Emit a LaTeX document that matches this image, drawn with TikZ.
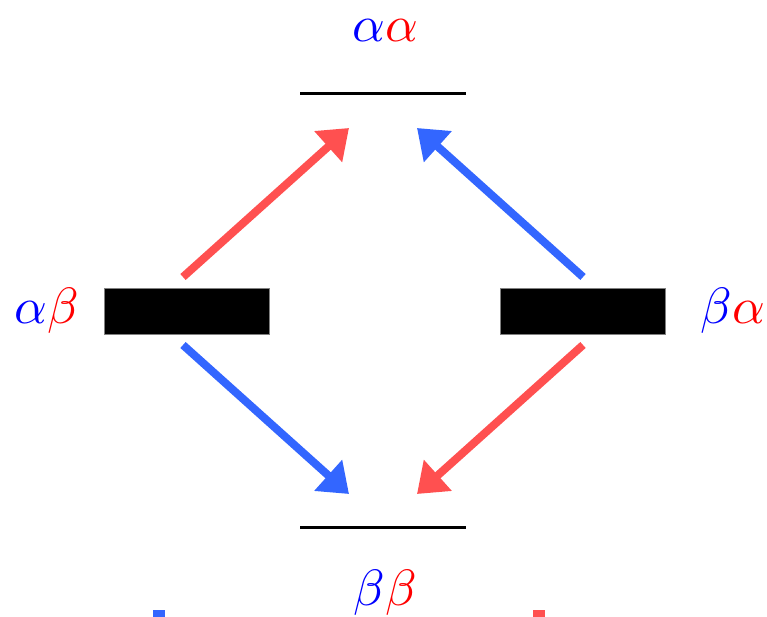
\documentclass[tikz,border=0pt]{standalone}
\usepackage{graphicx}
\usetikzlibrary{arrows.meta}
\definecolor{arrred}{RGB}{255,80,80}
\definecolor{arrblue}{RGB}{51,102,255}
\newcommand{\biglbl}[1]{\scalebox{5.1}{$#1$}}
\tikzset{
  lbl/.style={inner sep=0pt, anchor=base},
  level/.style={line width=3pt, black},
  bar/.style={fill=black, draw=gray, line width=0.6pt, minimum width=165pt, minimum height=46pt, inner sep=0pt},
  arr/.style={line width=8pt, -{Triangle[length=28pt,width=40pt]}},
  cutmark/.style={inner sep=0pt, minimum width=12pt, minimum height=10pt}
}
\begin{document}
\begin{tikzpicture}[x=1pt,y=-1pt]
\useasboundingbox (0,0) rectangle (767,617);
% levels
\coordinate (tl) at (300,94);
\coordinate (tr) at (466,94);
\coordinate (bl) at (300,527);
\coordinate (br) at (466,527);
\draw[level] (tl) -- (tr);
\draw[level] (bl) -- (br);
% labels
\node[lbl] (aa) at (385,42) {\biglbl{\color{blue}\alpha\color{red}\alpha}};
\node[lbl] (bb) at (385,605) {\biglbl{\color{blue}\beta\color{red}\beta}};
\node[lbl] (ab) at (47,323) {\biglbl{\color{blue}\alpha\color{red}\beta}};
\node[lbl] (ba) at (733,323) {\biglbl{\color{blue}\beta\color{red}\alpha}};
% bars
\node[bar] (L) at (186.5,311) {};
\node[bar] (R) at (583,311) {};
% arrow endpoints
\coordinate (lu) at (183,277);
\coordinate (ld) at (183,345);
\coordinate (ru) at (583,277);
\coordinate (rd) at (583,345);
\coordinate (tu1) at (349,128);
\coordinate (tu2) at (417,128);
\coordinate (td1) at (349,494);
\coordinate (td2) at (417,494);
\draw[arr, arrred] (lu) -- (tu1);
\draw[arr, arrblue] (ru) -- (tu2);
\draw[arr, arrblue] (ld) -- (td1);
\draw[arr, arrred] (rd) -- (td2);
% cut-off marks at bottom
\node[cutmark, fill=arrblue, anchor=north] (mb) at (159,610) {};
\node[cutmark, fill=arrred, anchor=north] (mr) at (538.5,610) {};
\end{tikzpicture}
\end{document}
